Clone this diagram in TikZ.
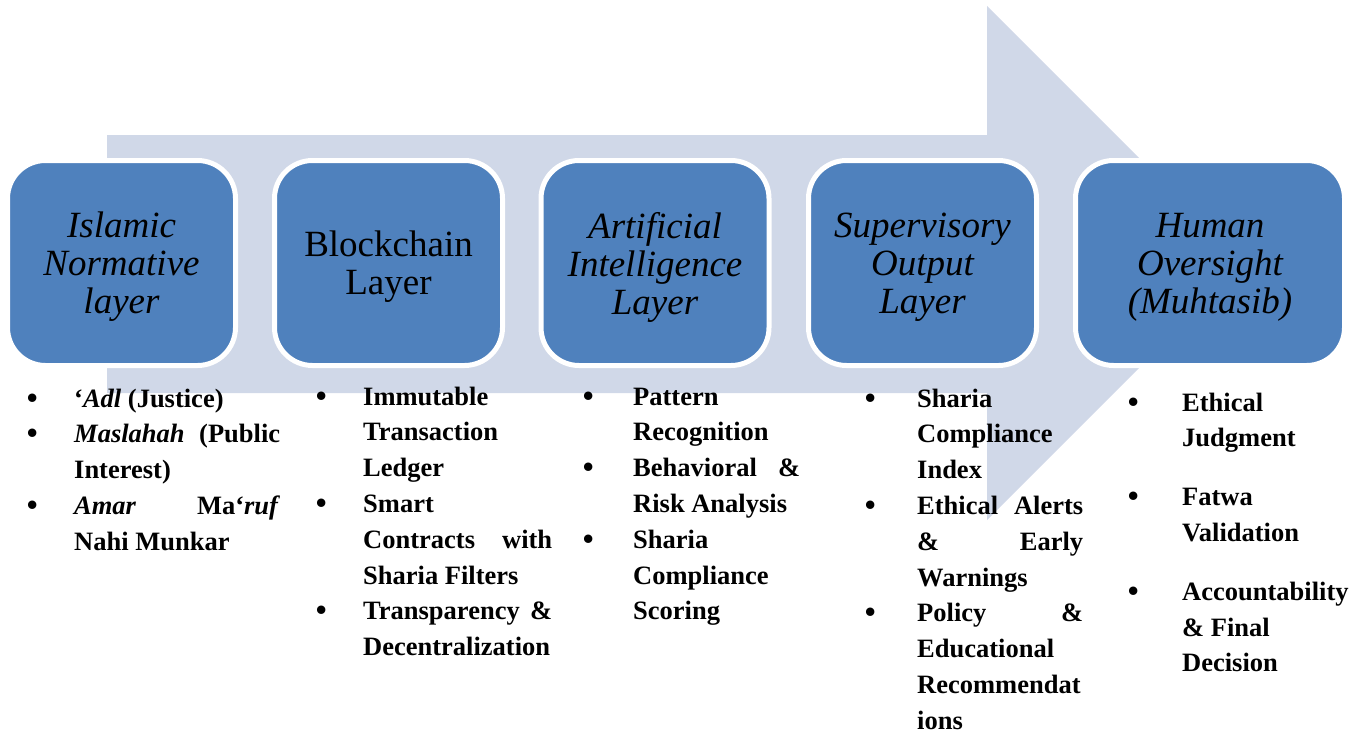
\documentclass[tikz,border=0pt]{standalone}
\usepackage{fontspec}
\setmainfont{Liberation Serif}
\definecolor{layerblue}{HTML}{4F81BD}
\definecolor{flowgrey}{HTML}{D0D8E8}

% round bullet, centred on the point where the label box ends
\newcommand{\roundbullet}{\makebox[0pt]{\raisebox{-1pt}{\fontsize{31}{0}\selectfont\textbullet}}}

% bulleted column: #1 indent of the text from the bullet centre,
% #2 text width, #3 extra space between items, #4 the items
\newcommand{\pointlist}[4]{%
  \begin{minipage}[t]{\dimexpr#1+#2\relax}%
    \fontsize{26.5}{35.8}\selectfont\bfseries
    \begin{list}{\roundbullet}{%
        \setlength\leftmargin{#1}\setlength\labelwidth{0pt}%
        \setlength\labelsep{#1}%
        \setlength\itemsep{#3}\setlength\parsep{0pt}%
        \setlength\topsep{0pt}\setlength\partopsep{0pt}%
        \setlength\rightmargin{0pt}\setlength\itemindent{0pt}}
      #4
    \end{list}%
  \end{minipage}}

\tikzset{
  layerbox/.style={draw=white, line width=5pt, fill=layerblue,
    rounded corners=38pt, minimum height=205pt, inner sep=0pt},
  layertitle/.style={align=center, text=black, inner sep=0pt,
    font=\fontsize{37}{38}\selectfont},
  pointcol/.style={anchor=base west, inner sep=0pt, text=black}
}

\begin{document}
\begin{tikzpicture}[x=1pt, y=-1pt]
  \useasboundingbox (0,0) rectangle (1359,733);

  % broad process arrow behind the layers
  \fill[flowgrey] (107,135) -- (987,135) -- (987,6) -- (1244,263)
    -- (987,520) -- (987,393) -- (107,393) -- cycle;

  % the five layers
  \node[layerbox, minimum width=228pt] (norm) at (121.5,263) {};
  \node[layerbox, minimum width=228pt] (chain) at (388.5,263) {};
  \node[layerbox, minimum width=228pt] (ai) at (655,263) {};
  \node[layerbox, minimum width=228pt] (super) at (922.5,263) {};
  \node[layerbox, minimum width=269pt] (human) at (1210,263) {};

  \node[layertitle] (normtitle) at ([yshift=-4pt]norm.center)
    {\itshape Islamic\\\itshape Normative\\\itshape layer};
  \node[layertitle] (chaintitle) at ([yshift=-4pt]chain.center)
    {Blockchain\\Layer};
  \node[layertitle] (aititle) at ([yshift=-4pt]ai.center)
    {\itshape Artificial\\\itshape Intelligence\\\itshape Layer};
  \node[layertitle] (supertitle) at ([yshift=-4pt]super.center)
    {\itshape Supervisory\\\itshape Output\\\itshape Layer};
  \node[layertitle] (humantitle) at ([yshift=-4pt]human.center)
    {\itshape Human\\\itshape Oversight\\\itshape (Muhtasib)};

  % key points under each layer
  \node[pointcol] (normpts) at (32,407) {\pointlist{42pt}{206pt}{0pt}{%
    \item ‘\textit{Adl} (Justice)
    \item \textit{Maslahah}\hfill(Public\\Interest)
    \item \textit{Amar}\hfill Ma‘\textit{ruf}\\Nahi Munkar}};

  \node[pointcol] (chainpts) at (321,405) {\pointlist{42pt}{189pt}{0pt}{%
    \item Immutable\\Transaction\\Ledger
    \item Smart\\Contracts\hfill with\\Sharia Filters
    \item Transparency\hfill\&\\Decentralization}};

  \node[pointcol] (aipts) at (588,405) {\pointlist{45pt}{167pt}{0pt}{%
    \item Pattern\\Recognition
    \item Behavioral\hfill\&\\Risk Analysis
    \item Sharia\\Compliance\\Scoring}};

  \node[pointcol] (superpts) at (870,407) {\pointlist{47pt}{166pt}{0pt}{%
    \item Sharia\\Compliance\\Index
    \item Ethical\hfill Alerts\\\&\hfill Early\\Warnings
    \item Policy\hfill\&\\Educational\\Recommendat\\ions}};

  \node[pointcol] (humanpts) at (1133,411) {\pointlist{49pt}{168pt}{23pt}{%
    \item Ethical\\Judgment
    \item Fatwa\\Validation
    \item Accountability\\\& Final\\Decision}};
\end{tikzpicture}
\end{document}
